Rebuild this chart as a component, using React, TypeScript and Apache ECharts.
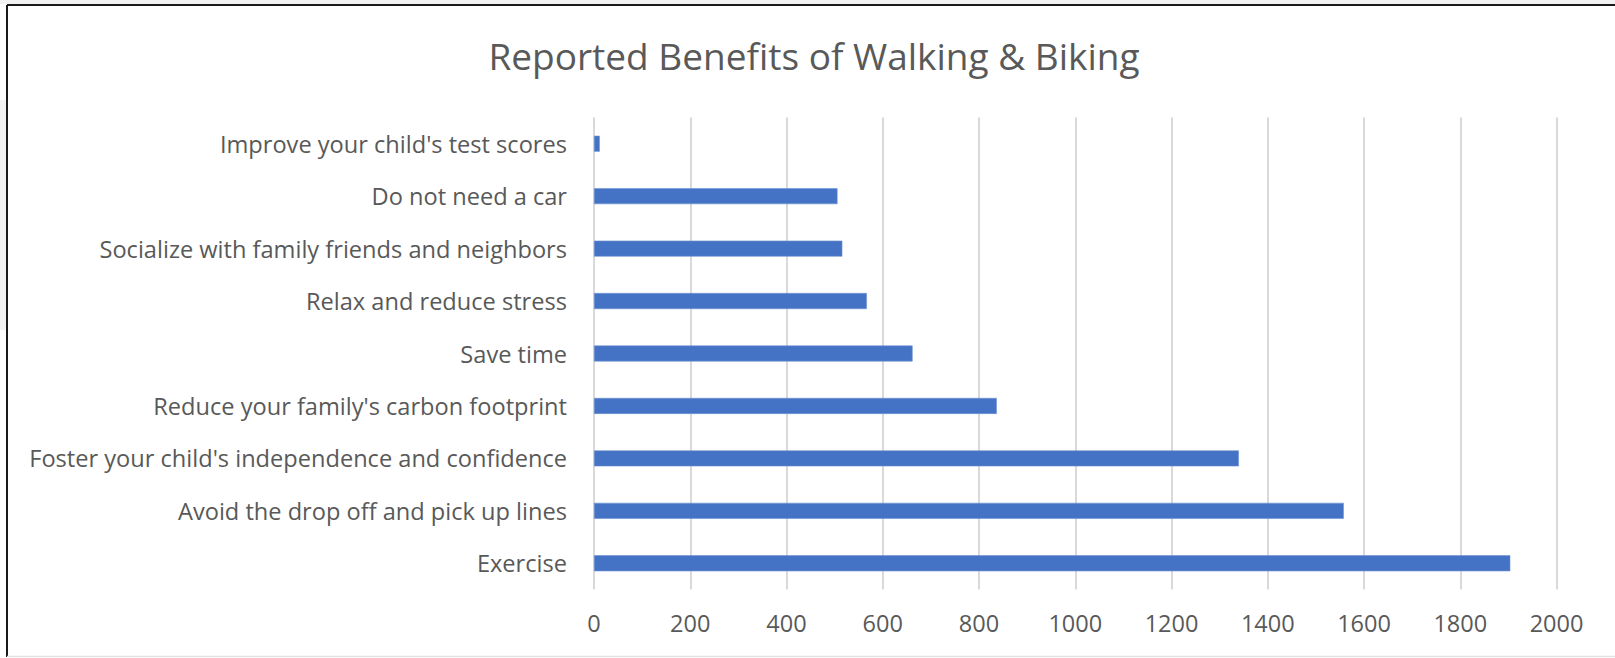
import React, { useEffect, useRef } from "react";
import * as echarts from "echarts";

const titleText = "Reported Benefits of Walking & Biking";
const categories = [
  "Improve your child's test scores",
  "Do not need a car",
  "Socialize with family friends and neighbors",
  "Relax and reduce stress",
  "Save time",
  "Reduce your family's carbon footprint",
  "Foster your child's independence and confidence",
  "Avoid the drop off and pick up lines",
  "Exercise",
];
const values = [12, 506, 516, 567, 662, 837, 1340, 1558, 1904];
const axisMin = 0;
const axisMax = 2000;
const axisInterval = 200;

const FONT = "'Open Sans', 'Noto Sans', sans-serif";
const TEXT_COLOR = "#595959";

export default function App() {
  const ref = useRef<HTMLDivElement>(null);
  useEffect(() => {
    document.body.style.margin = "0";
    const chart = echarts.init(ref.current!, null, { renderer: "svg" });
    chart.setOption({
      animation: false,
      backgroundColor: "#ffffff",
      textStyle: { fontFamily: FONT },
      grid: {
        left: 594,
        right: 58.5,
        top: 117.5,
        height: 472,
        containLabel: false,
        outerBoundsMode: "none",
      },
      xAxis: {
        type: "value",
        min: axisMin,
        max: axisMax,
        interval: axisInterval,
        axisLine: { show: false },
        axisTick: { show: false },
        splitLine: { show: true, lineStyle: { color: "#d9d9d9", width: 2 } },
        axisLabel: {
          color: TEXT_COLOR,
          fontSize: 23.5,
          fontFamily: FONT,
          margin: 21,
          formatter: (v: number) => String(v),
        },
      },
      yAxis: {
        type: "category",
        data: categories,
        inverse: true,
        axisLine: { show: false },
        axisTick: { show: false },
        splitLine: { show: false },
        axisLabel: { color: TEXT_COLOR, fontSize: 23.6, fontFamily: FONT, margin: 27 },
      },
      series: [
        {
          type: "bar",
          data: values,
          barWidth: 16,
          itemStyle: { color: "#4472c4", borderColor: "#6f93d2", borderWidth: 0.6 },
        },
      ],
      graphic: [
        { type: "rect", shape: { x: 0, y: 0, width: 1615, height: 4 }, style: { fill: "#f2f2f2" }, silent: true },
        { type: "rect", shape: { x: 0, y: 100, width: 6, height: 230 }, style: { fill: "#f2f2f2" }, silent: true },
        { type: "line", shape: { x1: 7, y1: 5, x2: 1615, y2: 5 }, style: { stroke: "#1a1a1a", lineWidth: 2 }, silent: true },
        { type: "line", shape: { x1: 7, y1: 5, x2: 7, y2: 657 }, style: { stroke: "#1a1a1a", lineWidth: 2 }, silent: true },
        { type: "line", shape: { x1: 7, y1: 656.5, x2: 1615, y2: 656.5 }, style: { stroke: "#e3e3e3", lineWidth: 1.5 }, silent: true },
        {
          type: "text",
          x: 814,
          y: 55.5,
          style: {
            text: titleText,
            fill: TEXT_COLOR,
            font: `37px ${FONT}`,
            textAlign: "center",
            textVerticalAlign: "middle",
          },
        },
      ],
    });
    return () => chart.dispose();
  }, []);
  return <div ref={ref} style={{ width: 1615, height: 658 }} />;
}
